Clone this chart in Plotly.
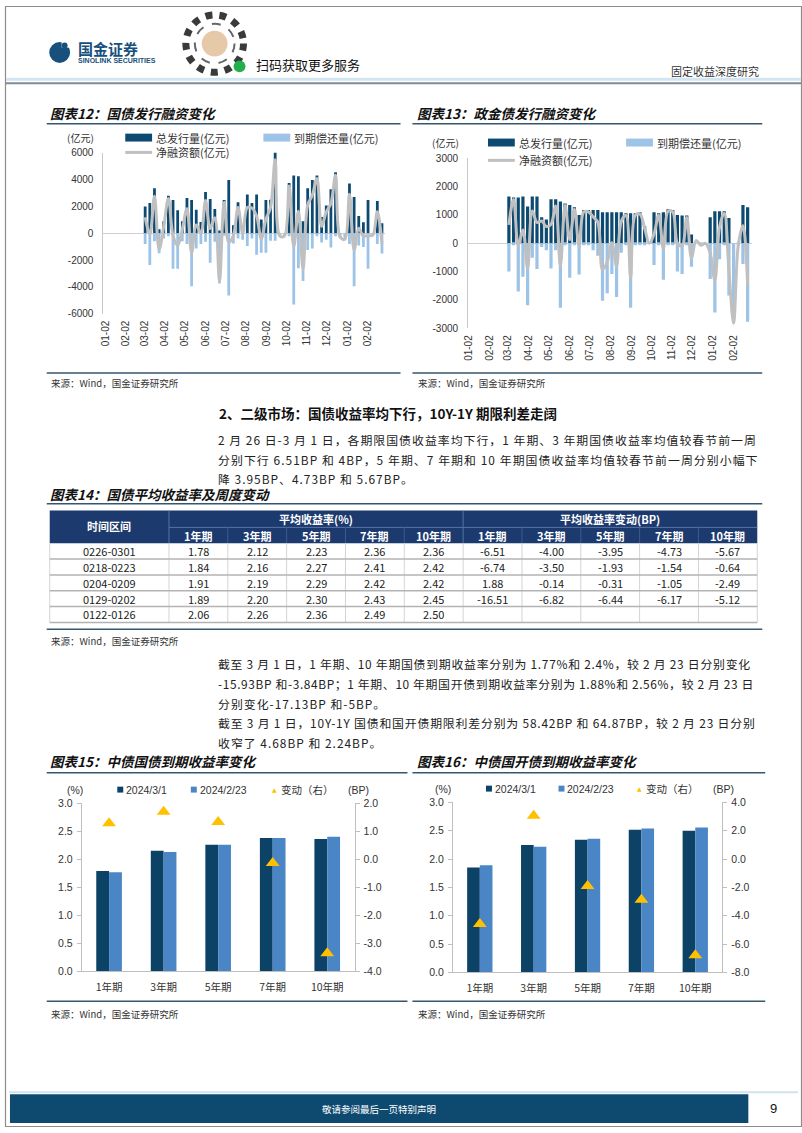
import plotly.graph_objects as go
import pandas as pd

W, H = 802, 1133
CJK = "Noto Sans CJK SC"
LAT = "Liberation Sans, Arial, Noto Sans CJK SC"

def X(px):
    return px / W

def Y(py):
    return 1 - py / H

# ---------------- data ----------------
week_dates = pd.date_range("2023-03-03", periods=52, freq="7D")

issue12 = [2000, 2250, 3350, 300, 900, 2800, 2480, 1720, 900, 2630,
           2480, 1750, 830, 3070, 2560, 1800, 200, 2480, 3960, 600,
           2300, 500, 2880, 2260, 2880, 1030, 2480, 2500, 6050, 0,
           0, 3740, 4300, 4250, 890, 3350, 3960, 4300, 1200, 2070,
           3270, 4550, 0, 0, 3710, 2700, 1280, 810, 2480, 0,
           2410, 740]
redeem12 = [-810, -2360, -590, -1500, -400, -220, -2650, -2650, -600, -810,
            -3960, -1130, -810, -640, -2210, -640, -3750, -180, -4650, -760,
            -390, -490, -960, -390, -1600, -1450, -1450, -570, -570, -200,
            -200, -220, -5310, -2610, -3570, -1250, -1130, -220, -690, -490,
            -1060, -220, -300, -450, -800, -3960, -910, -1030, -2650, -150,
            -810, -1520]
net12 = [1190, -110, 2760, -1200, 500, 2580, -170, -930, 300, 1820,
         -1480, 620, 20, 2430, 350, 1160, -3550, 2300, -690, -160,
         1910, 10, 1920, 1870, 1280, -420, 1030, 1930, 5480, -200,
         -200, 3520, -1010, 1640, -2680, 2100, 2830, 4080, 510, 1580,
         2210, 4330, -300, -450, 2910, -1260, 370, -220, -170, -150,
         1600, -780]

issue13 = [1650, 1620, 1620, 1650, 1300, 1650, 1650, 920, 840, 1560,
           1560, 1480, 1410, 1350, 1270, 1000, 1180, 1180, 1180, 1180,
           1100, 1100, 1100, 1100, 1100, 1060, 1060, 1060, 1100, 600,
           0, 1100, 1060, 1100, 1200, 1180, 1000, 980, 980, 310,
           0, 0, 0, 920, 1130, 1130, 1130, 890, 0, 0,
           1350, 1270]
redeem13 = [-1000, -70, -1700, -1180, -2190, -510, -910, -130, -245, -890,
            -245, -2280, -70, -1220, -70, -1100, -70, -70, -245, -440,
            -2030, -1760, -1080, -1900, -330, -70, -2280, -70, -70, -70,
            0, -770, -70, -1290, -70, -70, -1000, -1080, -70, -830,
            0, -70, 0, -1260, -2440, -560, -70, -1840, -2820, -70,
            -730, -2770]
net13 = [650, 1550, -80, 470, -890, 1140, 740, 790, 595, 670,
         1315, -800, 1340, 130, 1200, -100, 1110, 1110, 935, 740,
         -930, -660, 20, -800, 770, 990, -1220, 990, 1030, 530,
         0, 330, 990, -190, 1130, 1110, 0, -100, 910, -520,
         100, -70, 0, -340, -1310, 570, 1060, -950, -2820, -70,
         620, -1500]

money_ticks12 = [6000, 4000, 2000, 0, -2000, -4000, -6000]
money_ticks13 = [3000, 2000, 1000, 0, -1000, -2000, -3000]

terms = ["1年期", "3年期", "5年期", "7年期", "10年期"]
gz_0301 = [1.79, 2.15, 2.26, 2.38, 2.36]
gz_0223 = [1.77, 2.13, 2.26, 2.38, 2.40]
gz_chg = [1.28, 1.69, 1.33, -0.13, -3.35]
gk_0301 = [1.85, 2.25, 2.34, 2.52, 2.50]
gk_0223 = [1.89, 2.22, 2.36, 2.54, 2.56]
gk_chg = [-4.58, 3.07, -1.90, -2.88, -6.79]
pct_ticks = [0.0, 0.5, 1.0, 1.5, 2.0, 2.5, 3.0]
bp_ticks15 = [-4.0, -3.0, -2.0, -1.0, 0.0, 1.0, 2.0]
bp_ticks16 = [-8.0, -6.0, -4.0, -2.0, 0.0, 2.0, 4.0]

periods = ["0226-0301", "0218-0223", "0204-0209", "0129-0202", "0122-0126"]
avg_1y = [1.78, 1.84, 1.91, 1.89, 2.06]
avg_3y = [2.12, 2.16, 2.19, 2.20, 2.26]
avg_5y = [2.23, 2.27, 2.29, 2.30, 2.36]
avg_7y = [2.36, 2.41, 2.42, 2.43, 2.49]
avg_10y = [2.36, 2.42, 2.42, 2.45, 2.50]
chg_1y = [-6.51, -6.74, 1.88, -16.51, None]
chg_3y = [-4.00, -3.50, -0.14, -6.82, None]
chg_5y = [-3.95, -1.93, -0.31, -6.44, None]
chg_7y = [-4.73, -1.54, -1.05, -6.17, None]
chg_10y = [-5.67, -0.64, -2.49, -5.12, None]

# ---------------- colours ----------------
DARK = "#0d4a72"
LIGHT = "#9dc3e6"
GREY_LINE = "#c0c0c0"
BAR_D = "#0b4266"
BAR_L = "#4a86c5"
GOLD = "#FFC000"
RULE = "#34566f"
NAVY_HEAD = "#1d3a6e"

shapes = []
anns = []

def L(x0, y0, x1, y1, color, w=1):
    shapes.append(dict(type="line", xref="paper", yref="paper", x0=X(x0), y0=Y(y0),
                       x1=X(x1), y1=Y(y1), line=dict(color=color, width=w)))

def R(x0, y0, x1, y1, fill, line_color=None, lw=0, layer="above"):
    shapes.append(dict(type="rect", xref="paper", yref="paper", x0=X(x0), y0=Y(y1),
                       x1=X(x1), y1=Y(y0), fillcolor=fill, layer=layer,
                       line=dict(color=line_color or fill, width=lw)))

def C(cx, cy, r, fill, line_color=None, lw=0, dash=None):
    ln = dict(color=line_color or fill, width=lw)
    if dash:
        ln["dash"] = dash
    shapes.append(dict(type="circle", xref="paper", yref="paper", x0=X(cx - r), y0=Y(cy + r),
                       x1=X(cx + r), y1=Y(cy - r), fillcolor=fill, line=ln))

def T(text, x, y, size=12, color="#222", anchor="left", family=CJK):
    anns.append(dict(text=text, x=X(x), y=Y(y), xref="paper", yref="paper", xanchor=anchor,
                     yanchor="middle", showarrow=False, borderpad=0,
                     font=dict(size=size, color=color, family=family)))

def P(text, x, y, spacing):
    if spacing:
        text = '<span style="letter-spacing:%.2fpx">%s</span>' % (spacing, text)
    T(text, x, y, 11.9, "#222")

# ---------------- page frame / header / footer ----------------
R(0.5, 0.5, 801.5, 1132.5, "rgba(0,0,0,0)", "#8c8c8c", 1.2)
L(1, 74, 801, 74, "#d3e5f0", 3)
L(1, 78, 801, 78, "#7d8b96", 2)
C(55, 47, 10.5, "#17507c")
R(57, 34, 67, 42, "white")
C(60, 40, 3, "#17507c")
T("<b>国金证券</b>", 72, 43, 15, "#17507c")
T("<b>SINOLINK SECURITIES</b>", 72, 55, 7, "#17507c", family=LAT)
C(211, 38, 29, "white", "#3a3a3a", 7, "dot")
C(211, 38, 20, "white", "#666", 2, "dash")
C(211, 38, 13, "#e6c9a8")
C(236, 61, 6, "#21b04b")
T("扫码获取更多服务", 252, 59, 13, "#111")
T("固定收益深度研究", 760, 66, 11, "#333", anchor="right")
L(4, 1098, 798, 1098, "#cfe2ee", 2)
R(5, 1100, 748, 1129, "#0e4a70")
T("敬请参阅最后一页特别声明", 376, 1114.5, 9.5, "white", anchor="center")
T("9", 773, 1114.5, 13, "#111", anchor="center", family=LAT)

# ---------------- chart titles / rules ----------------
def title_block(txt, x, y):
    T("<b><i>" + txt + "</i></b>", x, y, 13.5, "#111")

title_block("图表12：国债发行融资变化", 44, 108)
title_block("图表13：政金债发行融资变化", 414, 108)
L(42, 119, 398, 119, RULE, 1.5)
L(410, 119, 762, 119, RULE, 1.5)
L(42, 371, 398, 371, RULE, 1.5)
L(410, 371, 762, 371, RULE, 1.5)
T("来源：Wind，国金证券研究所", 45, 381.5, 9.5, "#333")
T("来源：Wind，国金证券研究所", 415, 381.5, 9.5, "#333")

T("(亿元)", 76, 133, 10, "#333", anchor="center")
R(121, 129, 148, 137, DARK)
T("总发行量(亿元)", 151, 133, 11, "#333")
R(260, 129, 287, 137, LIGHT)
T("到期偿还量(亿元)", 290, 133, 11, "#333")
L(121, 148, 148, 148, GREY_LINE, 3)
T("净融资额(亿元)", 151, 148, 11, "#333")

T("(亿元)", 443, 138, 10, "#333", anchor="center")
R(486, 134, 513, 142, DARK)
T("总发行量(亿元)", 516, 138, 11, "#333")
R(625, 134, 652, 142, LIGHT)
T("到期偿还量(亿元)", 655, 138, 11, "#333")
L(486, 156, 513, 156, GREY_LINE, 3)
T("净融资额(亿元)", 516, 156, 11, "#333")

# ---------------- section text ----------------
T("<b>2、二级市场：国债收益率均下行，10Y-1Y 期限利差走阔</b>", 214, 411, 13.5, "#111")
P("2 月 26 日-3 月 1 日，各期限国债收益率均下行，1 年期、3 年期国债收益率均值较春节前一周", 213, 438, 1.0)
P("分别下行 6.51BP 和 4BP，5 年期、7 年期和 10 年期国债收益率均值较春节前一周分别小幅下", 213, 458, 1.05)
P("降 3.95BP、4.73BP 和 5.67BP。", 213, 478, 1.0)

title_block("图表14：国债平均收益率及周度变动", 44, 493)
L(42, 503, 762, 503, RULE, 1.5)

# ---------------- table ----------------
col_x = [45, 165] + [165 + 59.2 * k for k in range(1, 11)]
tb_top, h_mid, h_bot = 510, 527, 543
row_h = 16
R(45, tb_top, 757, h_bot, NAVY_HEAD)
L(165, tb_top, 165, h_bot, "#5673a3", 1)
L(461, tb_top, 461, h_bot, "#5673a3", 1)
L(165, h_mid, 757, h_mid, "#5673a3", 1)
for k in range(2, 11):
    if k != 6:
        L(col_x[k], h_mid, col_x[k], h_bot, "#3d5a8c", 1)
T("<b>时间区间</b>", 105, 526, 11, "white", anchor="center")
T("<b>平均收益率(%)</b>", 313, 518.5, 11, "white", anchor="center")
T("<b>平均收益率变动(BP)</b>", 609, 518.5, 11, "white", anchor="center")
for k in range(10):
    cx = (col_x[k + 1] + col_x[k + 2]) / 2
    T("<b>" + terms[k % 5] + "</b>", cx, 535.5, 11, "white", anchor="center")

value_cols = [avg_1y, avg_3y, avg_5y, avg_7y, avg_10y, chg_1y, chg_3y, chg_5y, chg_7y, chg_10y]
n_rows = len(periods)
tb_bottom = h_bot + row_h * n_rows
for k in range(len(col_x)):
    L(col_x[k], h_bot, col_x[k], tb_bottom, "#d4d4d4", 1)
for i in range(n_rows):
    yb = h_bot + row_h * (i + 1)
    L(45, yb, 757, yb, "#b3b3b3", 1.5)
    yc = h_bot + row_h * i + row_h / 2
    T(periods[i], 105, yc, 11, "#222", anchor="center")
    for k, col in enumerate(value_cols):
        v = col[i]
        if v is None:
            continue
        cx = (col_x[k + 1] + col_x[k + 2]) / 2
        T(f"{v:.2f}", cx, yc, 11, "#222", anchor="center")
L(42, 630, 762, 630, RULE, 1.5)
T("来源：Wind，国金证券研究所", 45, 641.5, 9.5, "#333")

P("截至 3 月 1 日，1 年期、10 年期国债到期收益率分别为 1.77%和 2.4%，较 2 月 23 日分别变化", 213, 665, 0.72)
P("-15.93BP 和-3.84BP；1 年期、10 年期国开债到期收益率分别为 1.88%和 2.56%，较 2 月 23 日", 213, 685, 0.62)
P("分别变化-17.13BP 和-5BP。", 213, 705, 1.0)
P("截至 3 月 1 日，10Y-1Y 国债和国开债期限利差分别为 58.42BP 和 64.87BP，较 2 月 23 日分别", 213, 724, 0.8)
P("收窄了 4.68BP 和 2.24BP。", 213, 744, 1.0)

# ---------------- charts 15/16 titles & legends ----------------
title_block("图表15：中债国债到期收益率变化", 44, 763)
title_block("图表16：中债国开债到期收益率变化", 414, 763)
L(42, 775, 405, 775, RULE, 1.5)
L(410, 775, 765, 775, RULE, 1.5)
L(42, 1006, 405, 1006, RULE, 1.5)
L(410, 1006, 765, 1006, RULE, 1.5)
T("来源：Wind，国金证券研究所", 45, 1019, 9.5, "#333")
T("来源：Wind，国金证券研究所", 415, 1019, 9.5, "#333")

def small_legend(x_pct, x_sq1, x_sq2, x_tri, x_bp, y):
    T("(%)", x_pct, y, 10.5, "#333", anchor="center", family=LAT)
    R(x_sq1, y - 3, x_sq1 + 6, y + 3, BAR_D)
    T("2024/3/1", x_sq1 + 8, y, 10.5, "#333", family=LAT)
    R(x_sq2, y - 3, x_sq2 + 6, y + 3, BAR_L)
    T("2024/2/23", x_sq2 + 8, y, 10.5, "#333", family=LAT)
    T("▲", x_tri, y, 6, GOLD, anchor="center", family="DejaVu Sans")
    T("变动（右）", x_tri + 6, y, 10.5, "#333")
    T("(BP)", x_bp, y, 10.5, "#333", anchor="center", family=LAT)

small_legend(70, 113, 187, 271, 356, 792)
small_legend(441, 484, 557, 638, 723, 791)

# ---------------- traces ----------------
fig = go.Figure()
BW = 4.2 * 86400000
fig.add_bar(x=week_dates, y=issue12, width=BW, marker=dict(color=DARK, line=dict(width=0)),
            xaxis="x", yaxis="y", name="总发行量(亿元)")
fig.add_bar(x=week_dates, y=redeem12, width=BW, marker=dict(color=LIGHT, line=dict(width=0)),
            xaxis="x", yaxis="y", name="到期偿还量(亿元)")
fig.add_scatter(x=week_dates, y=net12, mode="lines", xaxis="x", yaxis="y", name="净融资额(亿元)",
                line=dict(color=GREY_LINE, width=3, shape="spline", smoothing=1.0))

BW2 = 4.8 * 86400000
fig.add_bar(x=week_dates, y=issue13, width=BW2, marker=dict(color=DARK, line=dict(width=0)),
            xaxis="x2", yaxis="y2", name="总发行量(亿元)")
fig.add_bar(x=week_dates, y=redeem13, width=BW2, marker=dict(color=LIGHT, line=dict(width=0)),
            xaxis="x2", yaxis="y2", name="到期偿还量(亿元)")
fig.add_scatter(x=week_dates, y=net13, mode="lines", xaxis="x2", yaxis="y2", name="净融资额(亿元)",
                line=dict(color=GREY_LINE, width=3, shape="spline", smoothing=1.0))

GW = 0.235
fig.add_bar(x=terms, y=gz_0301, offset=-GW, width=GW, marker=dict(color=BAR_D, line=dict(width=0)),
            xaxis="x3", yaxis="y3", name="2024/3/1")
fig.add_bar(x=terms, y=gz_0223, offset=0, width=GW, marker=dict(color=BAR_L, line=dict(width=0)),
            xaxis="x3", yaxis="y3", name="2024/2/23")
fig.add_scatter(x=terms, y=gz_chg, mode="markers", xaxis="x3", yaxis="y4", name="变动（右）",
                marker=dict(symbol="triangle-up", size=12, color=GOLD))

fig.add_bar(x=terms, y=gk_0301, offset=-GW, width=GW, marker=dict(color=BAR_D, line=dict(width=0)),
            xaxis="x4", yaxis="y5", name="2024/3/1")
fig.add_bar(x=terms, y=gk_0223, offset=0, width=GW, marker=dict(color=BAR_L, line=dict(width=0)),
            xaxis="x4", yaxis="y5", name="2024/2/23")
fig.add_scatter(x=terms, y=gk_chg, mode="markers", xaxis="x4", yaxis="y6", name="变动（右）",
                marker=dict(symbol="triangle-up", size=12, color=GOLD))

TF = dict(size=10, color="#333", family=LAT)

def date_x(d0, d1, rng, anchor):
    return dict(domain=[X(d0), X(d1)], anchor=anchor, type="date", range=rng,
                tickformat="%m-%d", dtick="M1", tick0="2023-01-02", tickangle=-90,
                showgrid=False, showline=False, zeroline=False, ticks="", tickfont=TF,
                ticklabelstandoff=4)

def money_y(top, bot, ticks, anchor):
    lim = max(ticks)
    return dict(domain=[Y(bot), Y(top)], anchor=anchor, range=[-lim, lim],
                tickvals=ticks, ticktext=[str(v) for v in ticks],
                showline=True, linecolor="#c8c8c8", linewidth=1,
                zeroline=True, zerolinecolor="#cfcfcf", zerolinewidth=1, showgrid=False,
                ticks="", tickfont=TF, ticklabelstandoff=7)

TF2 = dict(size=10.5, color="#333", family=LAT)

def cat_x(d0, d1, anchor):
    return dict(domain=[X(d0), X(d1)], anchor=anchor, type="category", range=[-0.5, 4.5],
                showline=True, linecolor="#bfbfbf", ticks="", showgrid=False, zeroline=False,
                tickfont=dict(size=10.5, color="#333", family=CJK), ticklabelstandoff=6)

def pct_y(top, bot, anchor):
    return dict(domain=[Y(bot), Y(top)], anchor=anchor, range=[0, 3],
                tickvals=pct_ticks, ticktext=[f"{v:.1f}" for v in pct_ticks],
                showline=True, linecolor="#bfbfbf", ticks="outside", ticklen=4, tickcolor="#bfbfbf",
                showgrid=False, zeroline=False, tickfont=TF2, ticklabelstandoff=2)

def bp_y(over, anchor, ticks):
    return dict(overlaying=over, anchor=anchor, side="right", range=[min(ticks), max(ticks)],
                tickvals=ticks, ticktext=[f"{v:.1f}" for v in ticks],
                showline=True, linecolor="#bfbfbf", ticks="outside", ticklen=4,
                tickcolor="#bfbfbf", showgrid=False, zeroline=False, tickfont=TF2,
                ticklabelstandoff=2)

fig.update_layout(
    width=W, height=H, margin=dict(l=0, r=0, t=0, b=0), autosize=False,
    paper_bgcolor="white", plot_bgcolor="rgba(0,0,0,0)",
    barmode="overlay", showlegend=False,
    font=dict(family=LAT, size=10, color="#333"),
    xaxis=date_x(99, 382, ["2022-12-30", "2024-02-27"], "y"),
    yaxis=money_y(148.3, 311, money_ticks12, "x"),
    xaxis2=date_x(466, 752, ["2023-01-01", "2024-03-01"], "y2"),
    yaxis2=money_y(154, 325.7, money_ticks13, "x2"),
    xaxis3=cat_x(77.3, 351.7, "y3"),
    yaxis3=pct_y(805.7, 975.7, "x3"),
    yaxis4=bp_y("y3", "x3", bp_ticks15),
    xaxis4=cat_x(450.7, 721.7, "y5"),
    yaxis5=pct_y(805, 976.7, "x4"),
    yaxis6=bp_y("y5", "x4", bp_ticks16),
    shapes=shapes, annotations=anns,
)

fig.write_html("out.html")
